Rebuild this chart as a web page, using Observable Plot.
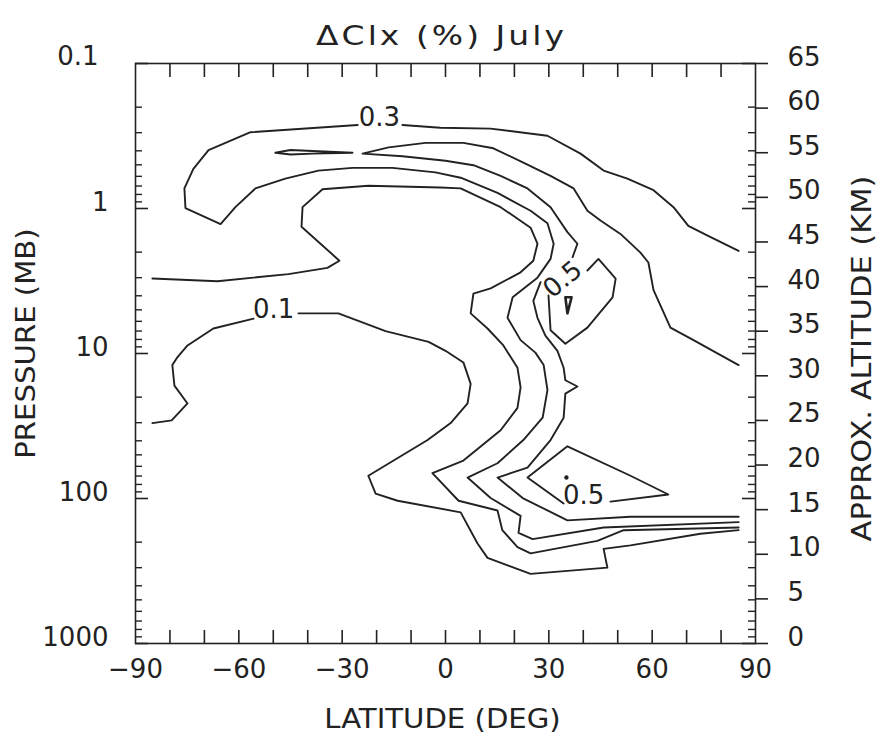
<!DOCTYPE html>
<html><head><meta charset="utf-8">
<script src="https://cdn.jsdelivr.net/npm/d3@7"></script>
<script src="https://cdn.jsdelivr.net/npm/@observablehq/plot@0.6"></script>
<style>html,body{margin:0;padding:0;background:#fff;} svg{display:block}</style>
</head><body><div id="chart"></div>
<script>
// ---------- chart text ----------
const titleText = "\u0394Clx (%) July";
const xTitle = "LATITUDE (DEG)";
const yTitleLeft = "PRESSURE (MB)";
const yTitleRight = "APPROX. ALTITUDE (KM)";

// ---------- axis ticks ----------
const latTickLabels = [-90, -60, -30, 0, 30, 60, 90];
const latTickMarks = [-80, -70, -60, -50, -40, -30, -20, -10, 0, 10, 20, 30, 40, 50, 60, 70, 80];
const pressureLabels = [0.1, 1, 10, 100, 1000];
const pressureMinor = [0.2,0.3,0.4,0.5,0.6,0.7,0.8,0.9, 2,3,4,5,6,7,8,9, 20,30,40,50,60,70,80,90, 200,300,400,500,600,700,800,900];
const altitudeTicks = [0, 5, 10, 15, 20, 25, 30, 35, 40, 45, 50, 55, 60, 65];

// ---------- contour lines: [latitude (deg), approx. altitude (km)] ----------
const lowerLine01a = [[-85.1,24.7],[-79.5,25.0],[-74.9,26.9],[-78.7,28.9],[-79.3,31.2],[-77.8,32.1],[-74.9,33.4],[-67.4,35.3],[-55.7,36.4]];
const lowerLine01b = [[-42.7,37.0],[-31.1,37.0],[-17.4,35.0],[-4.9,33.8],[0,32.8],[5.2,31.5],[7.3,29.1],[6.4,26.9],[1.5,24.7],[-5.2,22.8],[-22.4,18.8],[-20.3,16.8],[-13.9,16.0],[4.4,14.7],[9.3,11.2],[12.2,9.6],[24.7,7.8],[47.0,8.5],[45.9,10.6],[53.7,11.0],[74.0,12.3],[85.1,12.7]];
const innerLine = [[-85.1,40.9],[-66.2,40.6],[-45.6,41.4],[-34.3,42.1],[-30.8,42.9],[-41.8,46.7],[-41.5,48.9],[-35.7,50.9],[-22.4,51.3],[-1.5,51.1],[4.4,51.0],[16.0,48.9],[24.7,46.6],[26.7,44.8],[25.5,42.9],[21.8,41.6],[13.1,39.8],[8.1,39.2],[7.3,37.0],[12.2,35.3],[16.8,33.4],[20.9,30.9],[21.8,28.7],[20.9,26.4],[16.0,23.9],[5.2,20.5],[-3.8,19.1],[3.8,16.0],[15.1,14.9],[16.5,12.7],[20.9,10.8],[24.7,10.1],[44.1,11.5],[51.7,12.7],[85.1,13.0]];
const hookLine03a = [[85.1,44.0],[76.1,45.7],[70.5,46.8],[66.2,48.9],[60.4,50.8],[52.8,52.1],[45.9,53.0],[39.2,54.9],[29.6,56.9],[13.1,57.7],[-1.5,57.8],[-12.5,58.1]];
const hookLine03b = [[-25.5,58.1],[-56.6,57.3],[-68.8,55.3],[-73.2,53.2],[-75.8,51.0],[-75.5,48.8],[-65.3,47.0],[-61.0,48.9],[-55.2,51.0],[-46.5,52.1],[-36.9,53.0],[-27.0,53.3],[-15.4,53.3],[-2.9,52.8],[4.4,52.2],[15.1,50.5],[24.7,48.5],[29.6,47.1],[31.4,44.8],[30.5,43.1],[26.7,41.0],[19.5,38.8],[18.0,36.5],[21.8,34.0],[26.1,32.6],[28.5,31.2],[29.6,28.4],[28.2,25.3],[22.6,22.8],[15.1,20.2],[6.4,18.6],[13.1,16.3],[21.8,14.3],[21.2,12.4],[25.3,11.7],[45.9,13.0],[85.1,13.6]];
const wedgeLineA = [[85.1,31.2],[72.0,34.0],[65.3,35.4],[60.4,39.6],[58.9,42.7],[56.6,43.8],[50.8,45.9],[45.0,47.4],[41.2,48.5],[37.2,51.0],[30.5,52.4],[22.6,53.9],[13.9,55.5],[5.2,56.1],[0,56.1],[-5.8,56.1],[-16.5,55.6],[-24.1,54.9],[-12.5,54.6],[0,54.1],[8.1,53.6],[16.0,52.4],[23.8,51.0],[30.5,48.9],[35.4,46.1],[38.3,44.8],[36.9,43.3]];
const wedgeLineB = [[27.6,40.5],[25.5,38.4],[26.7,36.5],[29.0,34.5],[32.5,32.8],[34.3,30.9],[34.8,29.5],[38.3,28.8],[34.8,28.0],[34.3,25.3],[30.5,22.8],[23.8,19.7],[15.1,18.6],[22.4,16.3],[35.4,13.8],[53.7,14.2],[85.1,14.2]];
const upperBox05 = [[41.2,41.8],[44.4,43.1],[49.4,40.9],[48.5,38.8],[41.2,35.4],[34.8,33.6],[30.5,35.1],[29.9,39.0]];
const upperSpeck = [[34.8,38.8],[36.6,38.8],[35.4,37.0],[34.8,38.8]];
const topSliver = [[-49.4,55.0],[-45.0,55.3],[-38.6,55.2],[-27.0,55.0],[-38.6,54.9],[-45.0,54.8],[-49.4,55.0]];
const lowerBox05 = [[47.9,15.9],[64.7,16.7],[53.7,18.8],[35.4,22.1],[23.8,18.6],[34.3,15.7]];
const lowerDot = [[35.1,18.6]];

const contourLabelText = ["0.3", "0.1", "0.5", "0.5"];
const contourLabelLat = [-19.2, -49.9, 40.1, 34.0];
const contourLabelKm = [58.9, 37.4, 16.6, 40.8];
const contourLabelAngle = [0, 0, 0, -40];

// ---------- layout ----------
const W = 887, H = 739;
const mTop = 63, mRight = 132, mBottom = 96, mLeft = 135;
const plotW = W - mLeft - mRight;
const plotH = H - mTop - mBottom;
const ink = "#222";
const kmOf = p => 16.25 * Math.log10(1000 / p);
const fmtLat = d => d < 0 ? "\u2212" + Math.abs(d) : String(d);

const contourLines = [lowerLine01a, lowerLine01b, innerLine, hookLine03a, hookLine03b, wedgeLineA, wedgeLineB, upperBox05, topSliver, lowerBox05];
const labels = contourLabelText.map((t, i) => ({t, lat: contourLabelLat[i], km: contourLabelKm[i], a: contourLabelAngle[i]}));

const marks = [
  ...contourLines.map(pts => Plot.line(pts, {x: d => d[0], y: d => d[1], stroke: ink, strokeWidth: 1.9, strokeLinejoin: "round"})),
  Plot.line(upperSpeck, {x: d => d[0], y: d => d[1], stroke: ink, strokeWidth: 2.6, strokeLinejoin: "round"}),
  Plot.dot(lowerDot, {x: d => d[0], y: d => d[1], r: 2.2, fill: ink, stroke: null}),
  Plot.text(labels.filter(d => d.a === 0), {x: "lat", y: "km", text: "t", fill: ink, fontSize: 26, lineAnchor: "middle"}),
  Plot.text(labels.filter(d => d.a !== 0), {x: "lat", y: "km", text: "t", fill: ink, fontSize: 26, lineAnchor: "middle", rotate: -40}),
  // frame
  Plot.frame({stroke: ink, strokeWidth: 1.6}),
  // latitude ticks (top, bottom, inward)
  Plot.ruleX(latTickMarks, {x: d => d, stroke: ink, strokeWidth: 1.6, insetBottom: plotH - 14}),
  Plot.ruleX(latTickMarks, {x: d => d, stroke: ink, strokeWidth: 1.6, insetTop: plotH - 13}),
  // pressure ticks (left and right, inward)
  Plot.ruleY(pressureLabels, {y: kmOf, stroke: ink, strokeWidth: 1.6, insetRight: plotW - 13}),
  Plot.ruleY(pressureMinor, {y: kmOf, stroke: ink, strokeWidth: 1.4, insetRight: plotW - 7}),
  Plot.ruleY(pressureLabels, {y: kmOf, stroke: ink, strokeWidth: 1.6, insetLeft: plotW - 13}),
  Plot.ruleY(pressureMinor, {y: kmOf, stroke: ink, strokeWidth: 1.4, insetLeft: plotW - 7}),
  // altitude ticks (right, outward)
  Plot.ruleY(altitudeTicks, {y: d => d, stroke: ink, strokeWidth: 1.6, insetLeft: plotW, insetRight: -13}),
  // tick labels
  Plot.text(latTickLabels, {x: d => d, text: fmtLat, frameAnchor: "bottom", lineAnchor: "bottom", dy: 34, fill: ink}),
  Plot.text(pressureLabels.slice(0, 1), {y: kmOf, text: d => String(d), frameAnchor: "left", textAnchor: "end", lineAnchor: "bottom", dx: -37, dy: 1, fill: ink}),
  Plot.text(pressureLabels.slice(1), {y: kmOf, text: d => String(d), frameAnchor: "left", textAnchor: "end", lineAnchor: "bottom", dx: -27, dy: 2, fill: ink}),
  Plot.text(altitudeTicks, {y: d => d, text: d => String(d), frameAnchor: "right", textAnchor: "start", lineAnchor: "bottom", dx: 32, dy: 2, fill: ink}),
  // titles
  Plot.text([titleText], {text: d => d, frameAnchor: "top", textAnchor: "middle", lineAnchor: "bottom", dy: -19, dx: -4, fontSize: 27, fill: ink}),
  Plot.text([xTitle], {text: d => d, frameAnchor: "bottom", textAnchor: "middle", lineAnchor: "bottom", dy: 84, dx: -3, fontSize: 27, fill: ink}),
  Plot.text([yTitleLeft], {text: d => d, frameAnchor: "left", textAnchor: "middle", lineAnchor: "bottom", rotate: -90, dx: -101, dy: -10, fontSize: 27, fill: ink}),
  Plot.text([yTitleRight], {text: d => d, frameAnchor: "right", textAnchor: "middle", lineAnchor: "bottom", rotate: -90, dx: 115, dy: 5, fontSize: 27, fill: ink})
];

const chart = Plot.plot({
  width: W, height: H,
  marginTop: mTop, marginRight: mRight, marginBottom: mBottom, marginLeft: mLeft,
  x: {domain: [-90, 90], axis: null},
  y: {domain: [0, 65], axis: null},
  style: {fontFamily: "'DejaVu Sans', sans-serif", fontSize: "26px", background: "#fff", color: ink},
  marks
});

// widen the plotter-style titles horizontally (along the text direction)
const stretch = {[titleText]: [1.22, "2.5px"], [xTitle]: [1.08, "0px"], [yTitleLeft]: [1.08, "0px"], [yTitleRight]: [1.13, "0px"]};
chart.querySelectorAll("text").forEach(t => {
  const s = stretch[t.textContent];
  if (s) {
    const tr = t.getAttribute("transform") || "";
    t.setAttribute("transform", tr + ` scale(${s[0]},1)`);
    t.style.letterSpacing = s[1];
  }
});
document.getElementById("chart").appendChild(chart);
</script>
</body></html>
